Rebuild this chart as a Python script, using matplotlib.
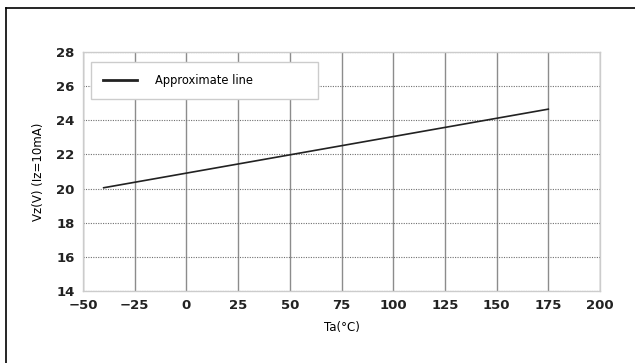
import numpy as np
import matplotlib.pyplot as plt
from matplotlib.lines import Line2D

# data
ta = [-40, 175]
vz = [20.05, 24.65]
xticks = [-50, -25, 0, 25, 50, 75, 100, 125, 150, 175, 200]
yticks = [14, 16, 18, 20, 22, 24, 26, 28]

fig = plt.figure(figsize=(6.35, 3.63), dpi=100)
ax = fig.add_axes([0.1307, 0.198, 0.8142, 0.659])

# outer frame (top and left edges only)
fig.add_artist(Line2D([0.0095, 0.0095], [0, 0.978], color='black', lw=1.2, transform=fig.transFigure))
fig.add_artist(Line2D([0.0095, 1.0], [0.978, 0.978], color='black', lw=1.2, transform=fig.transFigure))

ax.plot(ta, vz, color='#222222', lw=1.2, label='Approximate line')

ax.set_xlim(-50, 200)
ax.set_ylim(14, 28)
ax.set_xticks(xticks)
ax.set_yticks(yticks)
ax.set_xticklabels(['\u221250', '\u221225'] + [str(t) for t in xticks[2:]])

# grid: solid vertical, dotted horizontal
ax.xaxis.grid(True, color='#8c8c8c', lw=1.0, ls='-')
ax.yaxis.grid(True, color='#707070', lw=0.8, ls=(0, (1, 1.2)))
ax.set_axisbelow(True)

for s in ax.spines.values():
    s.set_color('#cccccc')
    s.set_linewidth(1.0)
ax.tick_params(length=0, pad=6)
for lbl in ax.get_xticklabels() + ax.get_yticklabels():
    lbl.set_fontweight('bold')
    lbl.set_fontsize(9.5)
    lbl.set_color('#222222')

ax.set_xlabel('Ta(\u00b0C)', fontsize=8.5, labelpad=6)
ax.set_ylabel('Vz(V) (Iz=10mA)', fontsize=8.5, labelpad=8)

leg = ax.legend(loc='upper left', bbox_to_anchor=(0.0155, 0.81, 0.44, 0.148),
                mode='expand', borderaxespad=0, fancybox=False, framealpha=1,
                fontsize=8.3, handlelength=2.9, handletextpad=1.6, borderpad=1.05)
leg.get_frame().set_edgecolor('#cccccc')
leg.get_frame().set_linewidth(1.0)
leg.get_lines()[0].set_linewidth(2.0)

fig.savefig('out.png', dpi=100)
